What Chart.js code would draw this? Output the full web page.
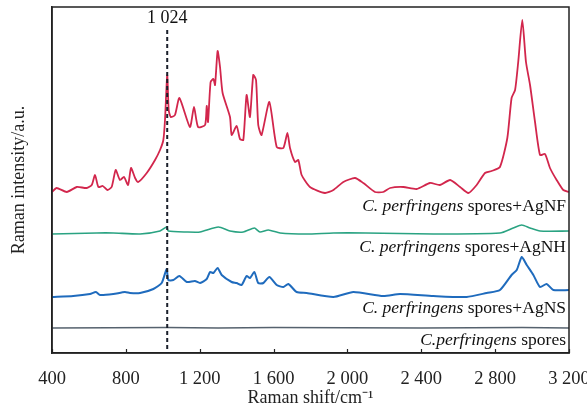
<!DOCTYPE html>
<html>
<head>
<meta charset="utf-8">
<script src="https://cdn.jsdelivr.net/npm/chart.js@4.4.1/dist/chart.umd.min.js"></script>
<style>
  body { margin: 0; background: #fff; }
  #wrap { width: 587px; height: 409px; }
</style>
</head>
<body>
<div id="wrap"><canvas id="chart"></canvas></div>
<script>
// Raman shift (cm-1) and intensity (a.u.), per spectrum
const agnfShift = [400, 425, 480, 534, 588, 615, 633, 651, 675, 700, 723, 745, 768, 790, 812, 828, 850, 867, 913, 958, 985, 1003, 1012, 1024, 1032, 1043, 1066, 1090, 1147, 1169, 1191, 1229, 1238, 1245, 1259, 1274, 1283, 1297, 1310, 1324, 1364, 1373, 1400, 1418, 1436, 1454, 1472, 1490, 1505, 1517, 1535, 1577, 1617, 1653, 1675, 1689, 1716, 1734, 1752, 1797, 1878, 1924, 1978, 2041, 2086, 2149, 2194, 2231, 2303, 2375, 2447, 2501, 2556, 2610, 2655, 2700, 2745, 2781, 2826, 2866, 2889, 2908, 2925, 2947, 2967, 2989, 3016, 3043, 3070, 3097, 3133, 3169, 3200];
const agnfIntensity = [161, 165, 161, 166, 165, 168, 178, 166, 167, 163, 166, 183, 173, 176, 168, 185, 175, 171, 180, 193, 203, 213, 233, 278, 243, 236, 238, 255, 226, 246, 226, 228, 247, 231, 271, 274, 268, 302, 286, 260, 236, 218, 227, 214, 213, 258, 236, 278, 273, 228, 218, 251, 206, 205, 220, 205, 191, 193, 178, 166, 160, 163, 171, 175, 170, 161, 161, 165, 166, 164, 170, 168, 173, 166, 160, 168, 180, 182, 186, 215, 255, 263, 291, 333, 291, 268, 231, 198, 199, 185, 173, 163, 161];

const agnhShift = [400, 642, 732, 877, 985, 1021, 1030, 1130, 1202, 1301, 1364, 1436, 1496, 1526, 1572, 1635, 1779, 1924, 2100, 2465, 2826, 2898, 2944, 2989, 3043, 3200];
const agnhIntensity = [119, 120, 120, 119, 122, 126, 122, 121, 121, 126, 122, 121, 125, 121, 123, 120, 119, 120, 120, 119, 120, 125, 128, 125, 122, 122];

const agnsShift = [400, 515, 606, 638, 660, 732, 795, 822, 877, 949, 994, 1021, 1030, 1057, 1090, 1130, 1174, 1202, 1238, 1256, 1274, 1297, 1319, 1373, 1400, 1427, 1454, 1472, 1496, 1517, 1545, 1577, 1617, 1653, 1680, 1725, 1779, 1924, 2032, 2194, 2285, 2465, 2646, 2754, 2826, 2889, 2917, 2944, 2971, 3007, 3043, 3079, 3115, 3200];
const agnsIntensity = [56, 57, 59, 61, 58, 59, 61, 60, 60, 64, 70, 84, 73, 73, 77, 71, 72, 70, 74, 81, 80, 85, 78, 71, 70, 68, 77, 75, 81, 70, 70, 76, 68, 66, 69, 61, 60, 56, 61, 57, 59, 57, 56, 60, 63, 78, 83, 96, 88, 78, 66, 69, 63, 63];

const sporesShift = [400, 1024, 1300, 1600, 2400, 2946, 3200];
const sporesIntensity = [25, 25.5, 25, 25.5, 25, 25.5, 25];

const xTicks = [400, 800, 1200, 1600, 2000, 2400, 2800, 3200];
const markerShift = 1024;
const markerLabel = "1 024";

const seriesLabels = [
  { italic: "C. perfringens", rest: " spores+AgNF", y: 147 },
  { italic: "C. perfringens", rest: " spores+AgNH", y: 106 },
  { italic: "C. perfringens", rest: " spores+AgNS", y: 45 },
  { italic: "C.perfringens", rest: " spores", y: 13 }
];

const toPoints = (xs, ys) => xs.map((x, i) => ({ x: x, y: ys[i] }));
const SERIF = "'Liberation Serif', 'Times New Roman', serif";
const INK = "#222";

const decor = {
  id: "decor",
  afterDatasetsDraw(chart) {
    const { ctx, chartArea: a, scales } = chart;
    const xs = scales.x, ys = scales.y;
    ctx.save();
    // frame
    ctx.strokeStyle = INK;
    ctx.lineWidth = 1.5;
    ctx.strokeRect(a.left, a.top, a.right - a.left, a.bottom - a.top);
    // inward tick marks
    ctx.lineWidth = 1.2;
    xTicks.forEach(v => {
      const px = Math.round(xs.getPixelForValue(v)) + 0.5;
      ctx.beginPath();
      ctx.moveTo(px, a.bottom);
      ctx.lineTo(px, a.bottom - 4);
      ctx.stroke();
    });
    // dashed marker line
    const mx = xs.getPixelForValue(markerShift);
    ctx.setLineDash([4, 3]);
    ctx.lineWidth = 2;
    ctx.strokeStyle = "#1a1f2b";
    ctx.beginPath();
    ctx.moveTo(mx, ys.getPixelForValue(323));
    ctx.lineTo(mx, a.bottom);
    ctx.stroke();
    ctx.setLineDash([]);
    ctx.fillStyle = "#111";
    ctx.font = "18px " + SERIF;
    ctx.textAlign = "center";
    ctx.textBaseline = "middle";
    ctx.fillText(markerLabel, mx, ys.getPixelForValue(335));
    // series labels, right aligned
    const right = xs.getPixelForValue(3200) - 3;
    ctx.textAlign = "left";
    seriesLabels.forEach(l => {
      ctx.font = "italic 17.5px " + SERIF;
      const w1 = ctx.measureText(l.italic).width;
      ctx.font = "17.5px " + SERIF;
      const w2 = ctx.measureText(l.rest).width;
      const x0 = right - w1 - w2;
      const py = ys.getPixelForValue(l.y);
      ctx.font = "italic 17.5px " + SERIF;
      ctx.fillText(l.italic, x0, py);
      ctx.font = "17.5px " + SERIF;
      ctx.fillText(l.rest, x0 + w1, py);
    });
    ctx.restore();
  }
};

const lineSet = (label, xs, ys, color, width) => ({
  label: label,
  data: toPoints(xs, ys),
  borderColor: color,
  borderWidth: width,
  pointRadius: 0,
  tension: 0.2,
  fill: false
});

new Chart(document.getElementById("chart"), {
  type: "line",
  data: {
    datasets: [
      lineSet("AgNF", agnfShift, agnfIntensity, "#d2264c", 1.8),
      lineSet("AgNH", agnhShift, agnhIntensity, "#2aa382", 1.6),
      lineSet("AgNS", agnsShift, agnsIntensity, "#1f6bbd", 2),
      lineSet("spores", sporesShift, sporesIntensity, "#56626e", 1.6)
    ]
  },
  options: {
    responsive: true,
    maintainAspectRatio: false,
    animation: false,
    layout: { padding: { top: 7, right: 18, left: 0, bottom: 0 } },
    plugins: { legend: { display: false }, tooltip: { enabled: false } },
    scales: {
      x: {
        type: "linear",
        min: 400,
        max: 3200,
        afterBuildTicks: s => { s.ticks = xTicks.map(v => ({ value: v })); },
        afterFit: s => { s.height = 56; s.paddingLeft = 0; s.paddingRight = 0; },
        grid: { display: false },
        border: { display: true, color: INK, width: 1.5 },
        ticks: {
          autoSkip: false,
          maxRotation: 0,
          padding: 7,
          color: INK,
          font: { family: SERIF, size: 18.5 },
          callback: v => v >= 1000 ? Math.floor(v / 1000) + " " + String(v % 1000).padStart(3, "0") : String(v)
        },
        title: {
          display: true,
          text: "Raman shift/cm\u207B\u00B9",
          color: INK,
          font: { family: SERIF, size: 18 },
          padding: { top: 0, bottom: 0 }
        }
      },
      y: {
        min: 0,
        max: 346,
        afterFit: s => { s.width = 52; },
        grid: { display: false },
        border: { display: true, color: INK, width: 1.5 },
        ticks: { display: false },
        title: {
          display: true,
          text: "Raman intensity/a.u.",
          color: INK,
          font: { family: SERIF, size: 18 },
          padding: { top: 8, bottom: 0 }
        }
      }
    }
  },
  plugins: [decor]
});
</script>
</body>
</html>
